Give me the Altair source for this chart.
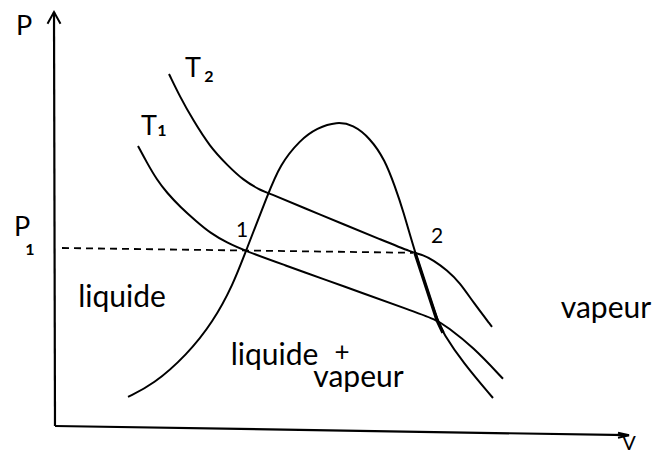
import altair as alt
import pandas as pd

# ---- data (V, P in arbitrary units) ----
dome_v = [1.46, 1.96, 2.64, 3.16, 3.56, 3.82, 4.26, 4.5, 4.9, 5.24, 5.64, 5.96, 6.3, 6.6, 6.8, 6.96, 7.2, 7.64, 7.76, 8.16, 8.76]
dome_p = [0.78, 1.08, 1.83, 2.65, 3.58, 4.43, 5.85, 6.58, 7.2, 7.5, 7.66, 7.58, 7.25, 6.7, 6.03, 5.45, 4.38, 2.7, 2.38, 1.63, 0.75]

t2_v = [2.28, 2.5, 2.76, 3.1, 3.44, 3.76, 4.1, 4.26, 5.0, 5.8, 6.5, 7.16, 7.36, 7.56, 7.84, 8.1, 8.36, 8.74]
t2_p = [8.85, 8.28, 7.7, 7.03, 6.58, 6.2, 5.95, 5.88, 5.49, 5.08, 4.72, 4.38, 4.33, 4.2, 3.95, 3.63, 3.15, 2.53]

t1_v = [1.66, 1.84, 2.04, 2.24, 2.5, 2.84, 3.1, 3.44, 3.8, 4.6, 5.4, 6.2, 7.0, 7.64, 7.84, 8.36, 8.96]
t1_p = [7.05, 6.63, 6.2, 5.88, 5.53, 5.15, 4.88, 4.63, 4.43, 4.07, 3.71, 3.35, 2.99, 2.7, 2.53, 2.03, 1.23]

thick_v = [7.2, 7.64, 7.76]
thick_p = [4.38, 2.7, 2.38]

p1_v = [0.14, 7.16]
p1_p = [4.5, 4.38]

yaxis_v = [-0.02, 0.0]
yaxis_p = [10.4, 0.05]
xaxis_v = [0.0, 11.48]
xaxis_p = [0.05, -0.18]

# labels
big_text = ["P", "P", "T", "T"]
big_v = [-0.62, -0.66, 2.76, 1.88]
big_p = [10.03, 5.0, 8.98, 7.53]

v_text = ["V"]
v_v = [11.48]
v_p = [-0.55]

sub_text = ["2", "1", "1"]
sub_v = [3.08, 2.14, -0.5]
sub_p = [8.78, 7.43, 4.45]

pt_text = ["1", "2"]
pt_v = [3.74, 7.64]
pt_p = [4.93, 4.78]

word_text = ["liquide", "liquide", "vapeur", "vapeur"]
word_v = [1.34, 4.39, 6.07, 11.02]
word_p = [3.03, 1.58, 1.03, 2.75]

plus_text = ["+"]
plus_v = [5.74]
plus_p = [1.87]

# ---- build tables ----
def curve(name, vs, ps):
    return pd.DataFrame({"curve": name, "V": vs, "P": ps, "o": range(len(vs))})

curves = pd.concat([curve("dome", dome_v, dome_p), curve("T2", t2_v, t2_p), curve("T1", t1_v, t1_p)])
thick = curve("thick", thick_v, thick_p)
dashed = curve("p1", p1_v, p1_p)
axes = pd.concat([curve("yaxis", yaxis_v, yaxis_p), curve("xaxis", xaxis_v, xaxis_p)])

xs = alt.Scale(domain=[-0.94, 12.02], nice=False, zero=False)
ys = alt.Scale(domain=[-0.7, 10.5], nice=False, zero=False)
X = alt.X("V:Q", scale=xs, axis=None)
Y = alt.Y("P:Q", scale=ys, axis=None)

FONT = "Lato"

def txt(texts, vs, ps, **kw):
    return alt.Chart(pd.DataFrame({"t": texts, "V": vs, "P": ps})).mark_text(
        font=FONT, color="black", align="center", **kw).encode(x=X, y=Y, text="t:N")

curve_layer = alt.Chart(curves).mark_line(color="black", strokeWidth=2, interpolate="basis").encode(
    x=X, y=Y, detail="curve:N", order="o:Q")
thick_layer = alt.Chart(thick).mark_line(color="black", strokeWidth=3.4).encode(
    x=X, y=Y, order="o:Q")
dash_layer = alt.Chart(dashed).mark_line(color="black", strokeWidth=1.8, strokeDash=[7, 5]).encode(
    x=X, y=Y, order="o:Q")
axes_layer = alt.Chart(axes).mark_line(color="black", strokeWidth=2.2).encode(
    x=X, y=Y, detail="curve:N", order="o:Q")

yarrow = alt.Chart(pd.DataFrame({"V": [yaxis_v[0]], "P": [yaxis_p[0]]})).mark_point(
    shape="M -1 1.8 L 0 0 L 1 1.8", filled=False, stroke="black", strokeWidth=2, size=169, opacity=1
).encode(x=X, y=Y)
xarrow = alt.Chart(pd.DataFrame({"V": [xaxis_v[1]], "P": [xaxis_p[1]]})).mark_point(
    shape="M -2.2 -0.5 L 0 0 L -2.2 0.5", filled=False, stroke="black", strokeWidth=2, size=100, opacity=1
).encode(x=X, y=Y)

big = txt(big_text, big_v, big_p, fontSize=27, baseline="middle")
vlab = txt(v_text, v_v, v_p, fontSize=20, baseline="alphabetic")
sub = txt(sub_text, sub_v, sub_p, fontSize=16, fontWeight="bold", baseline="middle")
pts = txt(pt_text, pt_v, pt_p, fontSize=21, baseline="middle")
words = txt(word_text, word_v, word_p, fontSize=30, baseline="alphabetic")
plus = txt(plus_text, plus_v, plus_p, fontSize=26, baseline="middle")

chart = alt.layer(
    axes_layer, yarrow, xarrow, dash_layer, curve_layer, thick_layer, big, vlab, sub, pts, words, plus
).properties(
    width=648, height=448, autosize=alt.AutoSizeParams(type="none"), padding=0
).configure_view(stroke=None)

chart.save("out.html", embed_options={"renderer": "svg", "actions": False})
